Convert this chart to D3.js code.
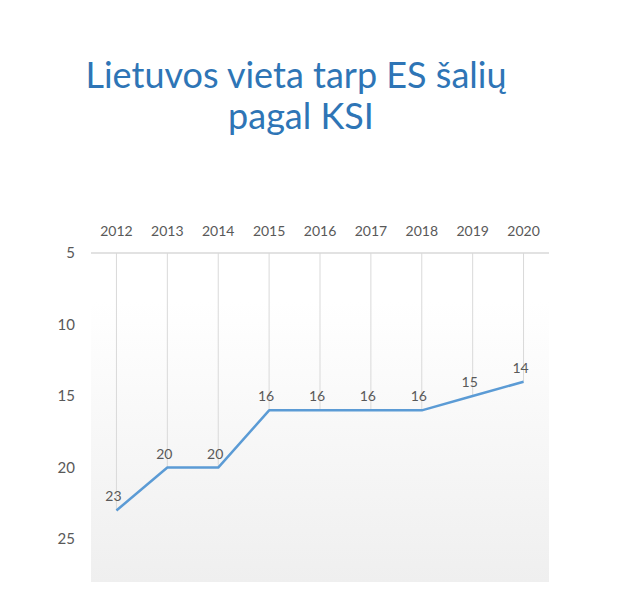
<!DOCTYPE html>
<html>
<head>
<meta charset="utf-8">
<script src="https://cdn.jsdelivr.net/npm/d3@7"></script>
<style>
  html, body { margin: 0; padding: 0; background: #fff; }
  svg { display: block; }
  text { font-family: Lato, "Open Sans", sans-serif; }
</style>
</head>
<body>
<svg id="chart" width="632" height="616"></svg>
<script>
const titleLines = ["Lietuvos vieta tarp ES šalių", "pagal KSI"];
const years = ["2012", "2013", "2014", "2015", "2016", "2017", "2018", "2019", "2020"];
const ranks = [23, 20, 20, 16, 16, 16, 16, 15, 14];
const yTicks = [5, 10, 15, 20, 25];
const yDomain = [5, 28];

const svg = d3.select("#chart");
const plot = { left: 91, right: 549, top: 253, bottom: 582 };

const x = d3.scaleBand().domain(years).range([plot.left, plot.right]).padding(0);
const cx = d => x(d) + x.bandwidth() / 2;
const y = d3.scaleLinear().domain(yDomain).range([plot.top, plot.bottom]);

// gradient background
const defs = svg.append("defs");
const grad = defs.append("linearGradient").attr("id", "bg").attr("x1", 0).attr("y1", 0).attr("x2", 0).attr("y2", 1);
grad.append("stop").attr("offset", "0%").attr("stop-color", "#ffffff");
grad.append("stop").attr("offset", "15%").attr("stop-color", "#ffffff");
grad.append("stop").attr("offset", "100%").attr("stop-color", "#efefef");
svg.append("rect")
  .attr("x", plot.left).attr("y", plot.top)
  .attr("width", plot.right - plot.left).attr("height", plot.bottom - plot.top)
  .attr("fill", "url(#bg)");

// title
svg.append("g").selectAll("text").data(titleLines).join("text")
  .attr("x", (d, i) => i === 0 ? 296 : 301)
  .attr("y", (d, i) => 88 + i * 41)
  .attr("text-anchor", "middle")
  .attr("font-size", 36)
  .attr("fill", "#2e75b6")
  .text(d => d);

// drop lines
svg.append("g").selectAll("line").data(years).join("line")
  .attr("x1", d => cx(d)).attr("x2", d => cx(d))
  .attr("y1", plot.top).attr("y2", (d, i) => y(ranks[i]))
  .attr("stroke", "#d9d9d9").attr("stroke-width", 1);

// top axis line
svg.append("line")
  .attr("x1", plot.left).attr("x2", plot.right)
  .attr("y1", y(yDomain[0])).attr("y2", y(yDomain[0]))
  .attr("stroke", "#d9d9d9").attr("stroke-width", 1.5);

// x labels (top)
const xAxis = d3.axisTop(x).tickSize(0).tickPadding(0);
const gx = svg.append("g").attr("transform", `translate(0,${plot.top - 17})`).call(xAxis);
gx.select(".domain").remove();
gx.selectAll("text").attr("font-size", 14).attr("fill", "#595959")
  .attr("font-family", "Lato, 'Open Sans', sans-serif").attr("dy", 0);

// y labels
const yAxis = d3.axisLeft(y).tickValues(yTicks).tickSize(0).tickPadding(0);
const gy = svg.append("g").attr("transform", `translate(75,0)`).call(yAxis);
gy.select(".domain").remove();
gy.selectAll("text").attr("font-size", 15).attr("fill", "#595959")
  .attr("font-family", "Lato, 'Open Sans', sans-serif");

// line
const line = d3.line().x((d, i) => cx(years[i])).y(d => y(d));
svg.append("path").datum(ranks)
  .attr("d", line)
  .attr("fill", "none")
  .attr("stroke", "#5b9bd5")
  .attr("stroke-width", 2.5)
  .attr("stroke-linejoin", "round");

// data labels
svg.append("g").selectAll("text").data(ranks).join("text")
  .attr("x", (d, i) => cx(years[i]) - 3)
  .attr("y", d => y(d) - 9)
  .attr("text-anchor", "middle")
  .attr("font-size", 14)
  .attr("fill", "#595959")
  .text(d => d);
</script>
</body>
</html>
